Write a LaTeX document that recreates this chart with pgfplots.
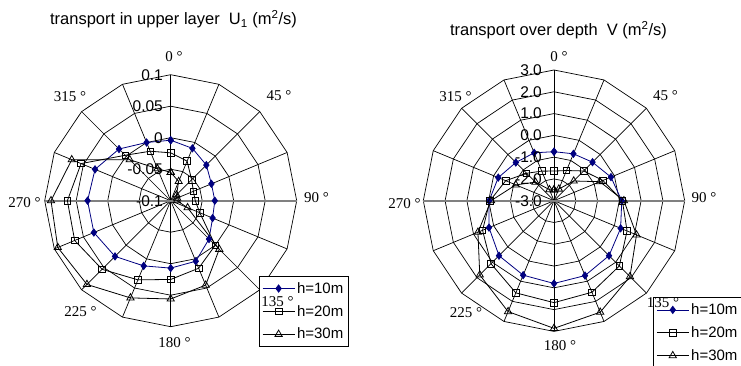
\documentclass[border=0pt]{standalone}
\usepackage{pgfplots}
\pgfplotsset{compat=1.18}
\usepackage{pgfplotstable}
\usepackage{fontspec}
\setmainfont{Liberation Sans}
\newfontfamily\degfont{Liberation Serif}
\definecolor{navyblue}{RGB}{0,0,128}

% direction (deg), h=10m, h=20m, h=30m  -- transport in upper layer U1 (m^2/s)
\pgfplotstableread{
dir a b c
0 -0.004 -0.024 -0.055
22.5 -0.010 -0.032 -0.067
45 -0.020 -0.053 -0.087
67.5 -0.030 -0.061 -0.089
90 -0.030 -0.061 -0.090
112.5 -0.028 -0.050 -0.071
135 -0.014 0.000 0.009
157.5 0.004 0.016 0.045
180 0.007 0.025 0.056
202.5 0.012 0.036 0.067
225 0.025 0.054 0.088
247.5 0.032 0.065 0.094
270 0.032 0.064 0.090
292.5 0.030 0.054 0.070
315 0.016 0.002 -0.008
337.5 0.000 -0.015 -0.045
360 -0.004 -0.024 -0.055
}\leftdata

% direction (deg), h=10m, h=20m, h=30m  -- transport over depth V (m^2/s)
\pgfplotstableread{
dir a b c
0 -0.75 -1.64 -2.50
22.5 -0.67 -1.50 -2.42
45 -0.50 -1.07 -1.72
67.5 -0.17 -0.57 -0.72
90 0.11 0.14 0.21
112.5 0.31 0.63 1.10
135 0.57 1.24 1.93
157.5 0.72 1.55 2.54
180 0.80 1.68 2.86
202.5 0.70 1.58 2.51
225 0.57 1.09 1.82
247.5 0.23 0.55 0.78
270 -0.02 -0.06 -0.11
292.5 -0.23 -0.60 -1.10
315 -0.52 -1.22 -1.80
337.5 -0.62 -1.53 -2.45
360 -0.75 -1.64 -2.50
}\rightdata

\pgfplotsset{
  radarstyle/.style={
    scale only axis, hide axis, clip=false, data cs=polar,
    xmin=-1, xmax=1, ymin=-1, ymax=1,
    legend cell align=left,
    legend style={draw=black, fill=white, line width=0.6pt,
      font=\fontsize{15}{17}\selectfont, row sep=6.5pt,
      inner xsep=3pt, inner ysep=4pt,
      /tikz/every odd column/.append style={column sep=0pt}},
    legend image code/.code={\draw[mark repeat=2,mark phase=2] plot coordinates {(0pt,0pt) (16pt,0pt) (32pt,0pt)};},
  },
  s10/.style={navyblue, line width=0.8pt, mark=diamond*, mark size=3.6pt, mark options={fill=navyblue, solid}},
  s20/.style={black, line width=0.8pt, mark=square, mark size=3.3pt, mark options={fill=white, solid}},
  s30/.style={black, line width=0.8pt, mark=triangle, mark size=4.2pt, mark options={fill=white, solid}},
}

\begin{document}
\begin{tikzpicture}
\path[use as bounding box] (0pt,0pt) rectangle (741pt,365pt);

% ---------- left grid ----------
\begin{scope}[shift={(170.7pt,164.3pt)}, line width=0.7pt]
  \foreach \r in {31.5,63,94.5,126} {
    \draw (90:\r pt) \foreach \k in {1,...,15} {-- (90-22.5*\k:\r pt)} -- cycle;
  }
  \foreach \k in {0,...,15} \draw (0pt,0pt) -- (90-22.5*\k:126pt);
  \draw[gray, line width=1.6pt] (180:126pt) -- (0:126pt);
\end{scope}

% ---------- right grid ----------
\begin{scope}[shift={(554pt,164.3pt)}, line width=0.7pt]
  \foreach \r in {21.78,43.57,65.35,87.13,108.92,130.7} {
    \draw (90:\r pt) \foreach \k in {1,...,15} {-- (90-22.5*\k:\r pt)} -- cycle;
  }
  \foreach \k in {0,...,15} \draw (0pt,0pt) -- (90-22.5*\k:130.7pt);
  \draw[gray, line width=1.6pt] (180:130.7pt) -- (0:130.7pt);
\end{scope}

% ---------- left chart ----------
\begin{axis}[radarstyle, at={(170.7pt,164.3pt)}, anchor=center,
  width=252pt, height=252pt,
  legend style={at={(0.850,0.201)}, anchor=north west}]
\addplot[s10] table[x expr=90-\thisrow{dir}, y expr=(\thisrow{a}+0.1)/0.2] {\leftdata};
\addplot[s20] table[x expr=90-\thisrow{dir}, y expr=(\thisrow{b}+0.1)/0.2] {\leftdata};
\addplot[s30] table[x expr=90-\thisrow{dir}, y expr=(\thisrow{c}+0.1)/0.2] {\leftdata};
\legend{h=10m,h=20m,h=30m}
\end{axis}

% ---------- right chart ----------
\begin{axis}[radarstyle, at={(554pt,164.3pt)}, anchor=center,
  width=261.4pt, height=261.4pt,
  legend style={at={(0.879,0.130)}, anchor=north west}]
\addplot[s10] table[x expr=90-\thisrow{dir}, y expr=(\thisrow{a}+3)/6] {\rightdata};
\addplot[s20] table[x expr=90-\thisrow{dir}, y expr=(\thisrow{b}+3)/6] {\rightdata};
\addplot[s30] table[x expr=90-\thisrow{dir}, y expr=(\thisrow{c}+3)/6] {\rightdata};
\legend{h=10m,h=20m,h=30m}
\end{axis}

% ---------- radial value labels ----------
\begin{scope}[every node/.style={anchor=east, inner sep=0pt, font=\fontsize{15.5}{17}\selectfont}]
  \node at (163pt,164.3pt) {-0.1};
  \node at (163pt,195.8pt) {-0.05};
  \node at (163pt,227.3pt) {0};
  \node at (163pt,258.8pt) {0.05};
  \node at (163pt,290.3pt) {0.1};
  \node at (542pt,164.3pt) {-3.0};
  \node at (542pt,186.08pt) {-2.0};
  \node at (542pt,207.87pt) {-1.0};
  \node at (542pt,229.65pt) {0.0};
  \node at (542pt,251.43pt) {1.0};
  \node at (542pt,273.22pt) {2.0};
  \node at (542pt,295pt) {3.0};
\end{scope}

% ---------- direction labels ----------
\begin{scope}[every node/.style={inner sep=0pt, font=\degfont\fontsize{15}{17}\selectfont}]
  \node at (174pt,308pt) {0 °};
  \node at (279pt,269pt) {45 °};
  \node at (316.5pt,167pt) {90 °};
  \node at (277.5pt,63pt) {135 °};
  \node at (174.5pt,22pt) {180 °};
  \node at (80.5pt,53pt) {225 °};
  \node at (24.5pt,162pt) {270 °};
  \node at (70pt,268pt) {315 °};
  \node at (559pt,308pt) {0 °};
  \node at (665.5pt,269pt) {45 °};
  \node at (704pt,167pt) {90 °};
  \node at (663pt,62pt) {135 °};
  \node at (560pt,19pt) {180 °};
  \node at (466pt,52pt) {225 °};
  \node at (404.5pt,161pt) {270 °};
  \node at (455.5pt,268pt) {315 °};
\end{scope}

% ---------- titles ----------
\node[inner sep=0pt, font=\fontsize{16.5}{19}\selectfont] at (173.5pt,346pt) {transport in upper layer\ \ U\textsubscript{1} (m\textsuperscript{2}/s)};
\node[inner sep=0pt, font=\fontsize{16.5}{19}\selectfont] at (558.5pt,335pt) {transport over depth\ \ V (m\textsuperscript{2}/s)};
\end{tikzpicture}
\end{document}
